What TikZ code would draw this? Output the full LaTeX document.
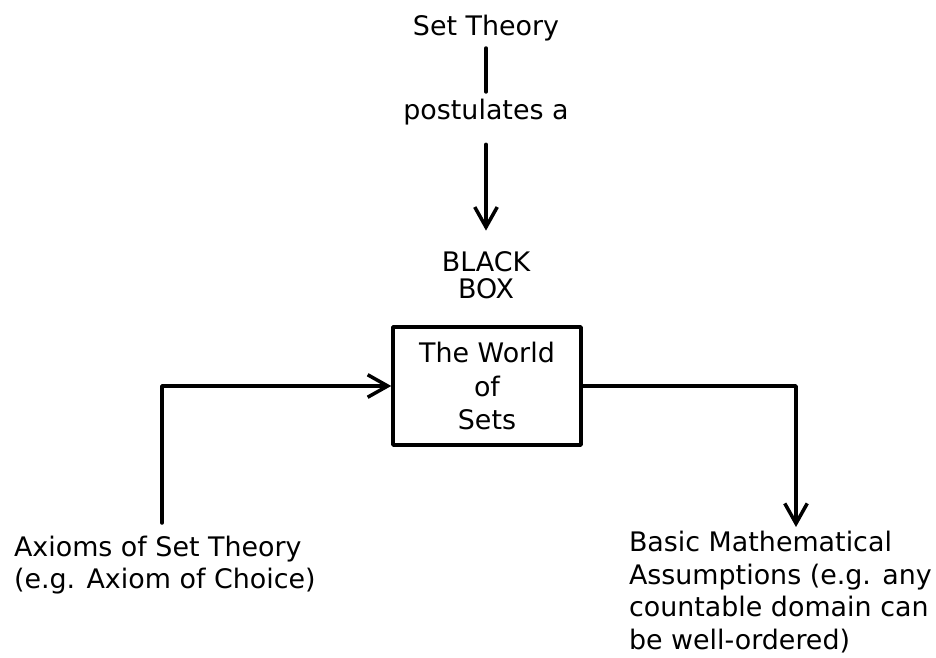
\documentclass[tikz,border=0pt]{standalone}
\usepackage{fontspec}
\setmainfont{DejaVu Sans}
\usetikzlibrary{arrows.meta, positioning}
\tikzset{
  every picture/.style={line width=2pt, line cap=round, line join=round},
  txt/.style={font=\fontsize{15.3}{18.5}\selectfont, align=#1, inner sep=3pt},
  txt/.default=center,
  worldbox/.style={draw, txt, font=\fontsize{15.3}{19}\selectfont, minimum width=3.76cm, minimum height=2.36cm},
  arrow/.style={-{Straight Barb[length=4mm, width=4.5mm]}},
}

\begin{document}
\begin{tikzpicture}
  \useasboundingbox (0,0) rectangle (18.72,13.16);
  \node[txt] (settheory) at (9.72,12.60) {Set Theory};
  \node[txt] (postulates) at (9.72,10.92) {postulates a};
  \node[txt, font=\fontsize{15.3}{15.5}\selectfont] (blackbox) at (9.72,7.65) {BLACK\\BOX};
  \node[worldbox] (world) at (9.74,5.44) {The World\\of\\Sets};
  \node[txt=left, anchor=west] (axioms) at (0.14,1.86) {Axioms of Set Theory\\(e.g. Axiom of Choice)};
  \node[txt=left, anchor=west] (basic) at (12.44,1.32) {Basic Mathematical\\Assumptions (e.g. any\\countable domain can\\be well-ordered)};
  \coordinate (axtop) at (3.24,2.70);
  \coordinate (basictop) at (15.92,2.62);
  % top chain
  \draw (settheory) -- (postulates);
  \draw[arrow, shorten <=7pt, shorten >=8pt] (postulates) -- (blackbox);
  % in and out of the box
  \draw[arrow] (axtop) |- (world.west);
  \draw[arrow] (world.east) -| (basictop);
\end{tikzpicture}
\end{document}
